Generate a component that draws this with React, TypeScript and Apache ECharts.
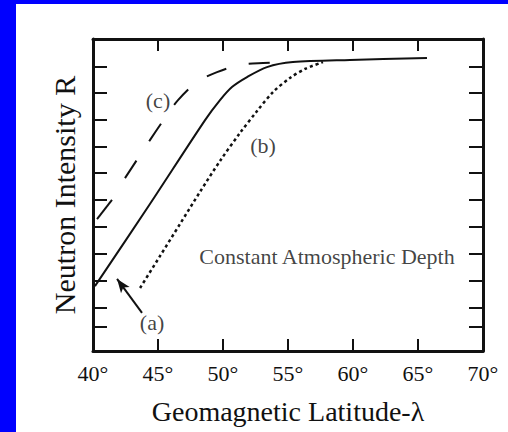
import React, { useEffect, useRef } from "react";
import * as echarts from "echarts";

// Curve (a): solid
const latA = [40.15, 44.38, 48.62, 49.77, 50.69, 51.85, 53.38, 55.38, 59.77, 65.69];
const intA = [20.8, 47.1, 74.0, 80.4, 84.6, 87.8, 91.0, 92.6, 93.3, 93.9];
// Curve (b): dotted
const latB = [43.62, 45.15, 46.69, 48.23, 49.77, 51.31, 52.62, 53.85, 55.15, 56.31, 57.69];
const intB = [20.2, 30.4, 40.7, 51.0, 60.9, 69.9, 76.9, 83.0, 87.5, 90.4, 92.6];
// Curve (c): dashed
const latC = [42.46, 44.38, 45.54, 46.54, 48.0, 49.54, 51.31, 53.08, 55.15];
const intC = [55.4, 67.6, 74.7, 80.4, 86.2, 89.4, 91.7, 92.3, 92.6];
// small mark at left axis
const latMark = [41.46, 40.31];
const intMark = [48.4, 42.3];
// arrow pointing to (a)
const arrowLat = [43.77, 41.85];
const arrowInt = [12.2, 23.1];
// annotation labels
const labelTexts = ["(a)", "(b)", "(c)", "Constant Atmospheric Depth"];
const labelLat = [44.54, 53.08, 45.0, 58.0];
const labelInt = [9.0, 66.0, 80.4, 30.4];
// axis ticks
const xMin = 40;
const xMax = 70;
const xStep = 5;
const yTicks = [7.7, 13.8, 22.4, 31.1, 39.7, 48.4, 57.1, 65.4, 74.0, 82.7, 91.0];

const INK = "#111";
const SERIF = "'Liberation Serif', 'DejaVu Serif', serif";

const pairs = (xs: number[], ys: number[]) => xs.map((x, i) => [x, ys[i]]);

export default function App() {
  const ref = useRef<HTMLDivElement>(null);
  useEffect(() => {
    if (!ref.current) return;
    const chart = echarts.init(ref.current, undefined, { renderer: "svg" });
    const axisLine = { show: true, onZero: false, lineStyle: { color: INK, width: 3 } };
    const xCommon = {
      type: "value",
      min: xMin,
      max: xMax,
      interval: xStep,
      axisLine,
      axisTick: { show: true, inside: true, length: 12, lineStyle: { color: INK, width: 2 } },
      splitLine: { show: false },
    };
    const yCommon = {
      type: "value",
      min: 0,
      max: 100,
      axisLine,
      axisTick: {
        show: true,
        inside: true,
        length: 14,
        customValues: yTicks,
        lineStyle: { color: INK, width: 2 },
      },
      axisLabel: { show: false },
      splitLine: { show: false },
    };
    chart.setOption({
      animation: false,
      backgroundColor: "#ffffff",
      grid: { left: 77, right: 25, top: 35, bottom: 81 },
      xAxis: [
        {
          ...xCommon,
          position: "bottom",
          axisLabel: {
            formatter: (v: number) => `${v}°`,
            fontFamily: SERIF,
            fontSize: 22,
            color: INK,
            margin: 11,
          },
          name: "Geomagnetic Latitude-λ",
          nameLocation: "middle",
          nameGap: 46,
          nameTextStyle: { fontFamily: SERIF, fontSize: 28, color: INK },
        },
        { ...xCommon, position: "top", axisLabel: { show: false } },
      ],
      yAxis: [
        {
          ...yCommon,
          position: "left",
          name: "Neutron Intensity R",
          nameLocation: "middle",
          nameGap: 14,
          nameTextStyle: { fontFamily: SERIF, fontSize: 30, color: INK },
        },
        { ...yCommon, position: "right" },
      ],
      series: [
        {
          type: "line",
          data: pairs(latA, intA),
          smooth: 0.3,
          showSymbol: false,
          lineStyle: { color: INK, width: 2 },
        },
        {
          type: "line",
          data: pairs(latB, intB),
          smooth: 0.3,
          showSymbol: false,
          lineStyle: { color: INK, width: 2.5, type: [3, 3] },
        },
        {
          type: "line",
          data: pairs(latC, intC),
          smooth: 0.3,
          showSymbol: false,
          lineStyle: { color: INK, width: 2, type: [21, 23] },
        },
        {
          type: "line",
          data: pairs(latMark, intMark),
          showSymbol: false,
          lineStyle: { color: INK, width: 2 },
        },
        {
          type: "scatter",
          symbolSize: 1,
          itemStyle: { color: "transparent" },
          data: labelTexts.map((t, i) => ({ name: t, value: [labelLat[i], labelInt[i]] })),
          label: {
            show: true,
            position: "inside",
            formatter: "{b}",
            fontFamily: SERIF,
            fontSize: 22,
            color: INK,
          },
          markLine: {
            silent: true,
            symbol: ["none", "arrow"],
            symbolSize: [8, 14],
            label: { show: false },
            lineStyle: { color: INK, width: 2, type: "solid", curveness: 0.2 },
            data: [
              [
                { coord: [arrowLat[0], arrowInt[0]] },
                { coord: [arrowLat[1], arrowInt[1]] },
              ],
            ],
          },
        },
      ],
    });
    return () => chart.dispose();
  }, []);
  return (
    <div
      style={{
        position: "fixed",
        left: 0,
        top: 0,
        width: 508,
        height: 432,
        background: "#0000ff",
      }}
    >
      <div
        ref={ref}
        style={{ position: "absolute", left: 16, top: 4, width: 492, height: 428, background: "#fff" }}
      />
    </div>
  );
}
